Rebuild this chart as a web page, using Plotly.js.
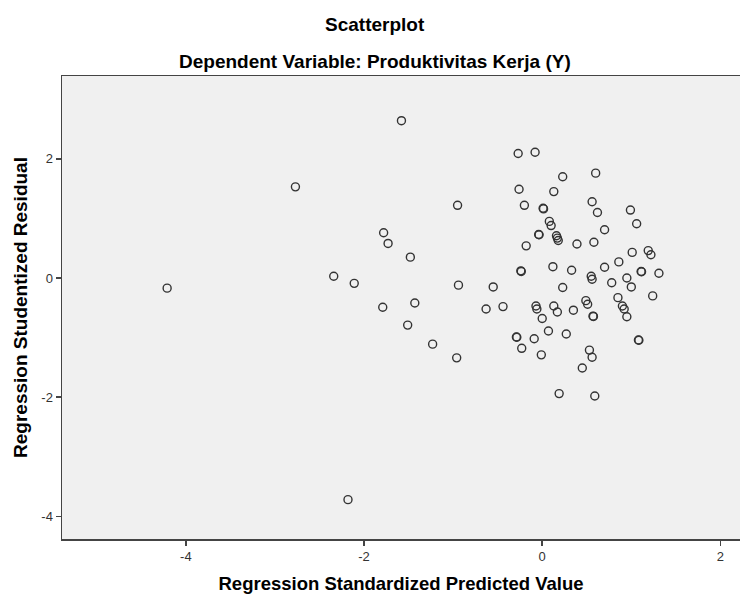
<!DOCTYPE html>
<html>
<head>
<meta charset="utf-8">
<script src="https://cdn.plot.ly/plotly-3.0.1.min.js"></script>
<style>
html,body{margin:0;padding:0;background:#fff;}
#chart{width:740px;height:594px;}
</style>
</head>
<body>
<div id="chart"></div>
<script>
// Regression Standardized Predicted Value
const predicted = [
 -4.21, -2.77, -2.34, -2.11, -2.18, -1.58, -0.27, -0.08, 0.23, 0.60,
 -0.26, 0.13, -0.95, -0.20, 0.01, 0.015, 0.56, 0.62, 0.99, 1.06,
 0.08, 0.10, 0.70, -0.04, -0.035, 0.16, 0.17, 0.18, 0.39, 0.58,
 -0.18, -1.78, -1.73, -1.48, 1.01, 1.19, 1.22, 0.86, 0.70, 0.12,
 0.33, -0.24, -0.235, 1.11, 1.115, 1.31, 0.55, 0.56, 0.95, 0.78,
 1.00, 0.23, -0.94, -0.55, 1.24, 0.85, -1.79, -1.43, -0.63, -0.44,
 -0.07, -0.06, 0.13, 0.17, 0.35, 0.49, 0.51, 0.90, 0.92, 0.95,
 0.57, 0.575, 0.00, -1.51, 0.07, 0.27, -0.29, -0.285, -0.09, -1.23,
 -0.23, 1.08, 1.085, 0.53, 0.56, -0.01, -0.96, 0.45, 0.19, 0.59
];
// Regression Studentized Residual
const residual = [
 -0.17, 1.53, 0.03, -0.09, -3.72, 2.64, 2.09, 2.11, 1.70, 1.76,
 1.49, 1.45, 1.22, 1.22, 1.17, 1.16, 1.28, 1.10, 1.14, 0.91,
 0.95, 0.88, 0.81, 0.73, 0.725, 0.71, 0.67, 0.63, 0.57, 0.60,
 0.54, 0.76, 0.58, 0.35, 0.43, 0.46, 0.39, 0.27, 0.18, 0.19,
 0.13, 0.12, 0.11, 0.11, 0.105, 0.08, 0.03, -0.02, 0.00, -0.08,
 -0.15, -0.16, -0.12, -0.15, -0.30, -0.33, -0.49, -0.42, -0.52, -0.48,
 -0.47, -0.52, -0.47, -0.57, -0.54, -0.38, -0.44, -0.47, -0.52, -0.65,
 -0.64, -0.645, -0.68, -0.79, -0.89, -0.94, -0.99, -0.995, -1.02, -1.11,
 -1.18, -1.04, -1.045, -1.21, -1.33, -1.29, -1.34, -1.51, -1.94, -1.98
];
const xTicks = [-4, -2, 0, 2];
const yTicks = [-4, -2, 0, 2];

const trace = {
  x: predicted, y: residual, type: 'scatter', mode: 'markers',
  marker: {symbol: 'circle-open', size: 8, color: '#333333', line: {width: 1.4, color: '#333333'}},
  hoverinfo: 'x+y', showlegend: false
};

const fontFam = 'Liberation Sans, Arial, sans-serif';
const layout = {
  width: 740, height: 594,
  margin: {l: 62, r: 0, t: 76, b: 55},
  paper_bgcolor: '#ffffff', plot_bgcolor: '#f0f0f0',
  font: {family: fontFam, color: '#000'},
  xaxis: {
    range: [-5.39, 2.22], tickvals: xTicks, ticktext: xTicks.map(String),
    showgrid: false, zeroline: false, showline: true, linecolor: '#444', linewidth: 1.5,
    mirror: true, ticks: 'outside', ticklen: 5, tickwidth: 1.5, tickcolor: '#444',
    tickfont: {size: 13, color: '#333', family: fontFam},
    title: {text: '<b>Regression Standardized Predicted Value</b>', font: {size: 18.5, family: fontFam, color: '#000'}, standoff: 14}
  },
  yaxis: {
    range: [-4.38, 3.39], tickvals: yTicks, ticktext: yTicks.map(String),
    showgrid: false, zeroline: false, showline: true, linecolor: '#444', linewidth: 1.5,
    mirror: false, ticks: 'outside', ticklen: 5, tickwidth: 1.5, tickcolor: '#444',
    tickfont: {size: 13, color: '#333', family: fontFam},
    title: {text: '<b>Regression Studentized Residual</b>', font: {size: 19, family: fontFam, color: '#000'}, standoff: 8}
  },
  annotations: [
    {text: '<b>Scatterplot</b>', xref: 'paper', yref: 'paper', x: 0.462, y: 1, yshift: 52, xanchor: 'center', yanchor: 'middle', showarrow: false, font: {size: 19, family: fontFam, color: '#000'}},
    {text: '<b>Dependent Variable: Produktivitas Kerja (Y)</b>', xref: 'paper', yref: 'paper', x: 0.462, y: 1, yshift: 15, xanchor: 'center', yanchor: 'middle', showarrow: false, font: {size: 19, family: fontFam, color: '#000'}}
  ]
};

Plotly.newPlot('chart', [trace], layout, {displayModeBar: false, staticPlot: true});
</script>
</body>
</html>
